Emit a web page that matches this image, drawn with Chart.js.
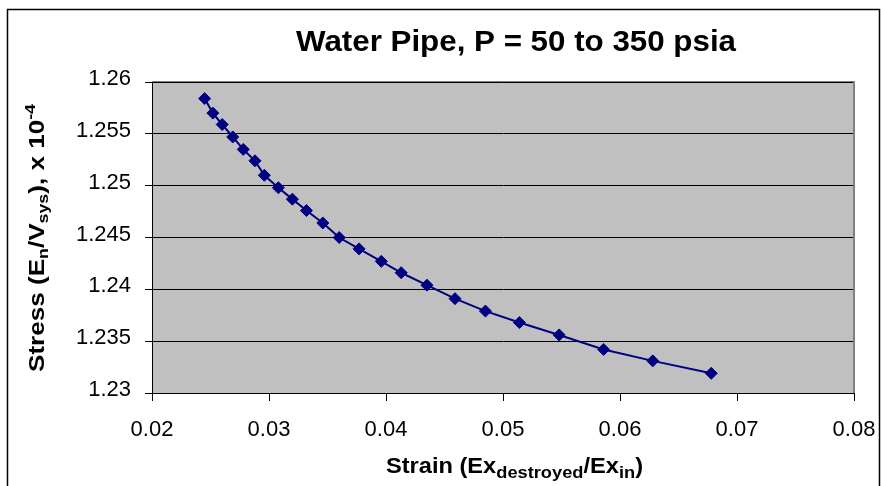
<!DOCTYPE html>
<html>
<head>
<meta charset="utf-8">
<script src="https://cdn.jsdelivr.net/npm/chart.js@4/dist/chart.umd.min.js"></script>
<style>
  body { margin: 0; background: #fff; }
  canvas { display: block; }
</style>
</head>
<body>
<canvas id="pipeChart" width="881" height="486"></canvas>
<script>
// strain (x) and stress (y, x 10^-4)
const strain = [0.0245, 0.0252, 0.0260, 0.0269, 0.0278, 0.0288, 0.0296, 0.0308, 0.0320, 0.0332,
    0.0346, 0.0360, 0.0377, 0.0396, 0.0413, 0.0435, 0.0459, 0.0485, 0.0514, 0.0548,
    0.0586, 0.0628, 0.0678];
const stress = [1.2584, 1.2570, 1.2559, 1.2547, 1.2535, 1.2524, 1.2510, 1.2498, 1.2487, 1.2476,
    1.2464, 1.2450, 1.2439, 1.2427, 1.2416, 1.2404, 1.2391, 1.2379, 1.2368, 1.2356,
    1.2342, 1.2331, 1.2319];
const xTicks = [0.02, 0.03, 0.04, 0.05, 0.06, 0.07, 0.08];
const yTicks = [1.23, 1.235, 1.24, 1.245, 1.25, 1.255, 1.26];

const titleText = 'Water Pipe, P = 50 to 350 psia';
const FONT = 'Arial, "Liberation Sans", sans-serif';

// draws a line of text made of parts (subscripts etc), stretched to a given width
const drawRich = (ctx, parts, targetW) => {
    let total = 0;
    parts.forEach(p => {
        ctx.font = 'bold ' + p.size + 'px ' + FONT;
        p.w = ctx.measureText(p.t).width;
        total += p.w;
    });
    ctx.save();
    ctx.scale(targetW / total, 1);
    let x = 0;
    parts.forEach(p => {
        ctx.font = 'bold ' + p.size + 'px ' + FONT;
        ctx.fillText(p.t, x, p.dy || 0);
        x += p.w;
    });
    ctx.restore();
};

const excelLook = {
    id: 'excelLook',
    beforeDraw(chart) {
        const {ctx, chartArea: a} = chart;
        ctx.save();
        ctx.fillStyle = '#C0C0C0';
        ctx.fillRect(a.left, a.top, a.right - a.left, a.bottom - a.top);
        ctx.restore();
    },
    beforeDatasetsDraw(chart) {
        const {ctx, chartArea: a} = chart;
        ctx.save();
        ctx.strokeStyle = '#808080';
        ctx.lineWidth = 2;
        ctx.beginPath();
        ctx.moveTo(a.left, a.top);
        ctx.lineTo(a.right, a.top);
        ctx.lineTo(a.right, a.bottom);
        ctx.stroke();
        ctx.strokeStyle = '#000';
        ctx.lineWidth = 1;
        ctx.beginPath();
        ctx.moveTo(a.left, a.top + 0.5);
        ctx.lineTo(a.right - 1, a.top + 0.5);
        ctx.stroke();
        ctx.restore();
    },
    afterDraw(chart) {
        const ctx = chart.ctx;
        ctx.save();
        ctx.fillStyle = '#000';
        ctx.textBaseline = 'alphabetic';

        // outer frame
        ctx.strokeStyle = '#000';
        ctx.lineWidth = 1.5;
        ctx.strokeRect(7.5, 9.5, 872, 490);

        // main title
        ctx.save();
        ctx.translate(296, 51);
        drawRich(ctx, [{t: titleText, size: 30}], 440);
        ctx.restore();

        // x axis title
        ctx.save();
        ctx.translate(386, 473);
        drawRich(ctx, [
            {t: 'Strain (Ex', size: 22},
            {t: 'destroyed', size: 17, dy: 5},
            {t: '/Ex', size: 22},
            {t: 'in', size: 17, dy: 5},
            {t: ')', size: 22}
        ], 257);
        ctx.restore();

        // y axis title
        ctx.save();
        ctx.translate(44, 372);
        ctx.rotate(-Math.PI / 2);
        drawRich(ctx, [
            {t: 'Stress (E', size: 22},
            {t: 'n', size: 15, dy: 4},
            {t: '/V', size: 22},
            {t: 'sys', size: 15, dy: 4},
            {t: '), x 10', size: 22},
            {t: '-4', size: 15, dy: -9}
        ], 268);
        ctx.restore();

        ctx.restore();
    }
};

const points = strain.map((x, i) => ({x: x, y: stress[i]}));

const pipeChart = new Chart('pipeChart', {
    type: 'scatter',
    data: {
        datasets: [{
            data: points,
            showLine: true,
            tension: 0,
            borderColor: '#000080',
            backgroundColor: '#000080',
            borderWidth: 2,
            pointStyle: 'rectRot',
            pointRadius: 6,
            pointBorderWidth: 1,
            pointBorderColor: '#000080'
        }]
    },
    options: {
        responsive: false,
        animation: false,
        layout: {
            padding: {left: 0, top: 82, right: 27, bottom: 0}
        },
        plugins: {
            legend: {display: false},
            title: {display: false},
            tooltip: {enabled: false}
        },
        scales: {
            x: {
                type: 'linear',
                min: xTicks[0],
                max: xTicks[xTicks.length - 1],
                afterBuildTicks: scale => {
                    scale.ticks = xTicks.map(v => ({value: v}));
                },
                afterFit: scale => {
                    scale.height = 93;
                    // plot edges are set by layout padding only
                    scale.paddingLeft = 0;
                    scale.paddingRight = 0;
                },
                ticks: {
                    callback: v => v.toFixed(2),
                    font: {family: FONT, size: 22},
                    color: '#000',
                    padding: 16,
                    maxRotation: 0,
                    autoSkip: false
                },
                grid: {
                    drawOnChartArea: false,
                    drawTicks: true,
                    tickLength: 8,
                    tickColor: '#000'
                },
                border: {color: '#000', width: 1}
            },
            y: {
                min: yTicks[0],
                max: yTicks[yTicks.length - 1],
                afterBuildTicks: scale => {
                    scale.ticks = yTicks.map(v => ({value: v}));
                },
                afterFit: scale => {
                    scale.width = 152;
                    scale.paddingTop = 0;
                    scale.paddingBottom = 0;
                },
                ticks: {
                    callback: v => String(+v.toFixed(3)),
                    font: {family: FONT, size: 22},
                    color: '#000',
                    padding: 14,
                    labelOffset: -3
                },
                grid: {
                    color: '#000',
                    lineWidth: 1,
                    tickLength: 7,
                    tickColor: '#000'
                },
                border: {color: '#000', width: 1}
            }
        }
    },
    plugins: [excelLook]
});
</script>
</body>
</html>
